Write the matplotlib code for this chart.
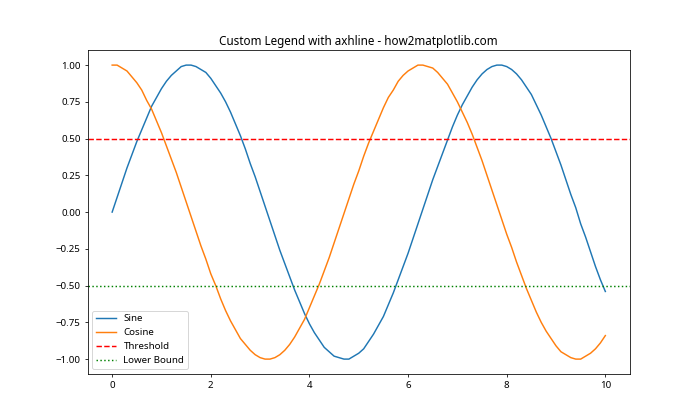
import matplotlib
matplotlib.use("Agg")
import matplotlib.pyplot as plt

plt.rcParams['font.family'] = ['Noto Sans', 'DejaVu Sans']

x = [round(i * 0.1, 1) for i in range(101)]
sine = [0.00, 0.10, 0.20, 0.30, 0.39, 0.48, 0.56, 0.64, 0.72, 0.78,
        0.84, 0.89, 0.93, 0.96, 0.99, 1.00, 1.00, 0.99, 0.97, 0.95,
        0.91, 0.86, 0.81, 0.75, 0.68, 0.60, 0.52, 0.43, 0.33, 0.24,
        0.14, 0.04, -0.06, -0.16, -0.26, -0.35, -0.44, -0.53, -0.61, -0.69,
        -0.76, -0.82, -0.87, -0.92, -0.95, -0.98, -0.99, -1.00, -1.00, -0.98,
        -0.96, -0.93, -0.88, -0.83, -0.77, -0.71, -0.63, -0.55, -0.46, -0.37,
        -0.28, -0.18, -0.08, 0.02, 0.12, 0.22, 0.31, 0.40, 0.49, 0.58,
        0.66, 0.73, 0.79, 0.85, 0.90, 0.94, 0.97, 0.99, 1.00, 1.00,
        0.99, 0.97, 0.94, 0.90, 0.85, 0.80, 0.73, 0.66, 0.58, 0.50,
        0.41, 0.32, 0.22, 0.12, 0.03, -0.08, -0.17, -0.27, -0.37, -0.46,
        -0.54]
cosine = [1.00, 1.00, 0.98, 0.96, 0.92, 0.88, 0.83, 0.76, 0.70, 0.62,
          0.54, 0.45, 0.36, 0.27, 0.17, 0.07, -0.03, -0.13, -0.23, -0.32,
          -0.42, -0.50, -0.59, -0.67, -0.74, -0.80, -0.86, -0.90, -0.94, -0.97,
          -0.99, -1.00, -1.00, -0.99, -0.97, -0.94, -0.90, -0.85, -0.79, -0.73,
          -0.65, -0.57, -0.49, -0.40, -0.31, -0.21, -0.11, -0.01, 0.09, 0.19,
          0.28, 0.38, 0.47, 0.55, 0.63, 0.71, 0.78, 0.83, 0.89, 0.93,
          0.96, 0.98, 1.00, 1.00, 0.99, 0.98, 0.95, 0.91, 0.87, 0.81,
          0.75, 0.68, 0.61, 0.53, 0.44, 0.35, 0.25, 0.15, 0.05, -0.05,
          -0.15, -0.24, -0.34, -0.43, -0.52, -0.60, -0.68, -0.75, -0.81, -0.86,
          -0.91, -0.95, -0.97, -0.99, -1.00, -1.00, -0.98, -0.96, -0.93, -0.89,
          -0.84]
threshold = 0.5
lower_bound = -0.5

fig, ax = plt.subplots(figsize=(10, 6), dpi=70)
ax.plot(x, sine, label='Sine')
ax.plot(x, cosine, label='Cosine')
ax.axhline(threshold, color='r', linestyle='--', label='Threshold')
ax.axhline(lower_bound, color='g', linestyle=':', label='Lower Bound')
ax.set_title('Custom Legend with axhline - how2matplotlib.com')
ax.legend(loc='lower left')
fig.savefig('out.png', dpi=70)
